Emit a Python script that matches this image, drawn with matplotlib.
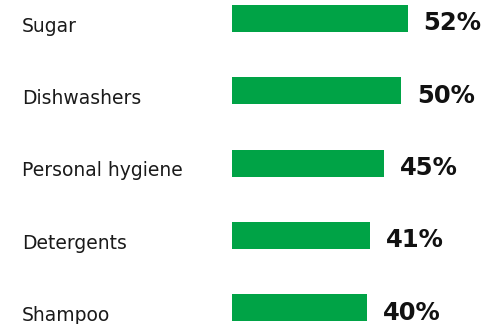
import matplotlib
matplotlib.use("Agg")
import matplotlib.pyplot as plt
from matplotlib.transforms import blended_transform_factory

categories = ["Sugar", "Dishwashers", "Personal hygiene", "Detergents", "Shampoo"]
values = [52, 50, 45, 41, 40]
value_labels = ["52%", "50%", "45%", "41%", "40%"]

W, H = 499, 324
fig = plt.figure(figsize=(W / 100, H / 100), dpi=100)
px_per_unit = 3.375
ax = fig.add_axes([232 / W, 0, (W - 232) / W, 1])
ax.set_xlim(0, (W - 232) / px_per_unit)
spacing = 72.25
ax.set_ylim((H - 18.5) / spacing, -18.5 / spacing)
ax.axis("off")

pos = list(range(len(categories)))
ax.barh(pos, values, height=27 / spacing, color="#00A346", edgecolor="none")

trans = blended_transform_factory(fig.transFigure, ax.transData)
for i, (c, v, lab) in enumerate(zip(categories, values, value_labels)):
    ax.text(22 / W, i + 8 / spacing, c, transform=trans, ha="left", va="center",
            fontsize=13.5, family="DejaVu Sans", color="#1a1a1a")
    ax.annotate(lab, xy=(v, i + 5 / spacing), xytext=(11.5, 0), textcoords="offset points",
                ha="left", va="center", fontsize=17.5, fontweight="bold",
                family="DejaVu Sans", color="#111111")

fig.savefig("out.png", dpi=100)
